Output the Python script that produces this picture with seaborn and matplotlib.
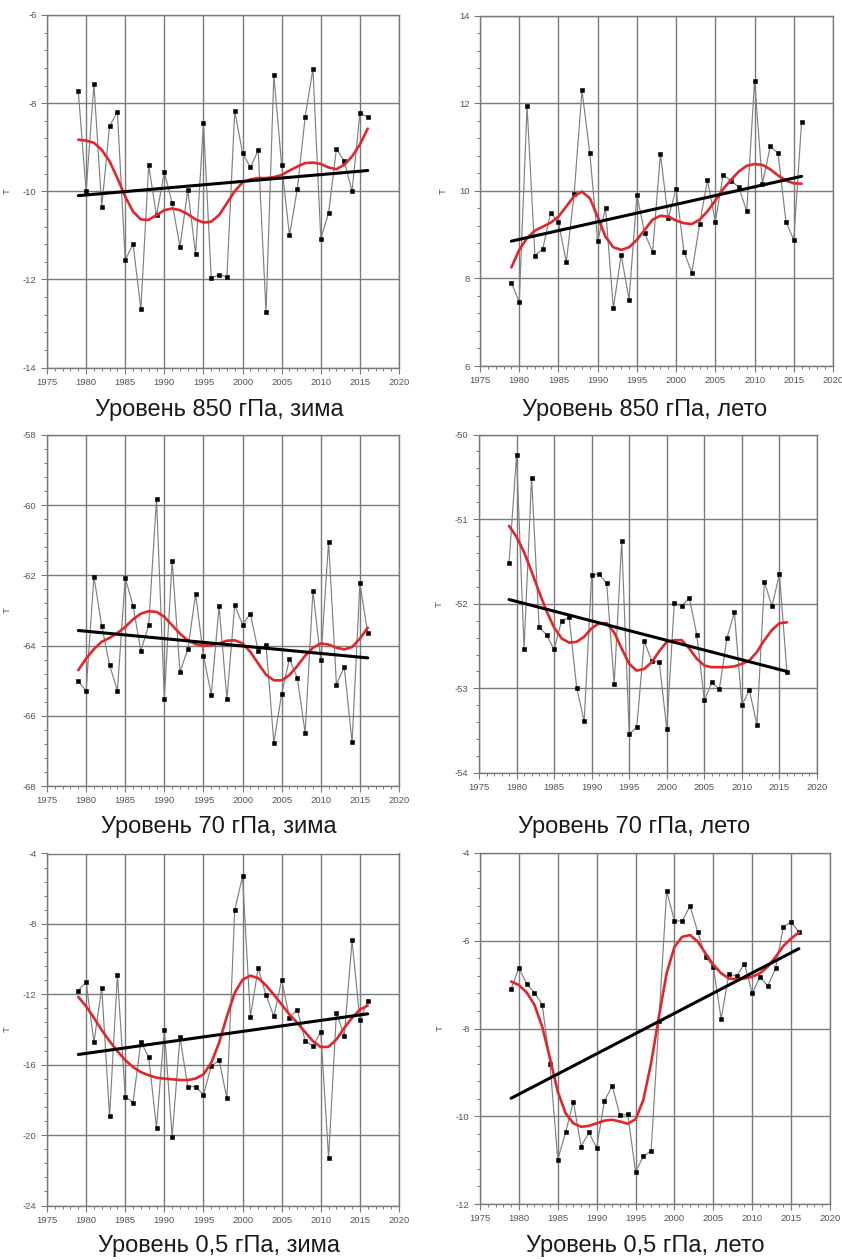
import numpy as np
import pandas as pd
import matplotlib
matplotlib.use("Agg")
import matplotlib.pyplot as plt
from matplotlib.ticker import MultipleLocator
import seaborn as sns

sns.set_style("white")
plt.rcParams['font.family'] = ['Liberation Sans', 'DejaVu Sans']
plt.rcParams['axes.unicode_minus'] = False

years = list(range(1979, 2017))

# ---- 850 hPa winter ----
t850_w = [-7.73, -10.0, -7.57, -10.35, -8.52, -8.2, -11.57, -11.19, -12.68, -9.41,
          -10.55, -9.57, -10.27, -11.26, -9.97, -11.43, -8.45, -11.97, -11.89, -11.95,
          -8.18, -9.13, -9.46, -9.07, -12.75, -7.36, -9.41, -11.0, -9.95, -8.32,
          -7.22, -11.08, -10.49, -9.04, -9.32, -10.0, -8.22, -8.32]
s850_w = [-8.83, -8.85, -8.9, -9.06, -9.32, -9.70, -10.12, -10.46, -10.64, -10.65,
          -10.54, -10.43, -10.39, -10.43, -10.52, -10.64, -10.71, -10.69, -10.54, -10.27,
          -10.0, -9.80, -9.73, -9.70, -9.70, -9.68, -9.63, -9.53, -9.44, -9.36,
          -9.35, -9.38, -9.46, -9.50, -9.40, -9.21, -8.94, -8.58]
tr850_w = [-10.10, -9.53]

# ---- 850 hPa summer ----
t850_s = [7.90, 7.46, 11.93, 8.52, 8.67, 9.49, 9.29, 8.37, 9.92, 12.29,
          10.86, 8.85, 9.60, 7.32, 8.54, 7.51, 9.91, 9.03, 8.60, 10.84,
          9.37, 10.05, 8.61, 8.13, 9.24, 10.25, 9.29, 10.36, 10.23, 10.08,
          9.53, 12.51, 10.16, 11.01, 10.86, 9.29, 8.88, 11.58]
s850_s = [8.25, 8.65, 8.92, 9.09, 9.18, 9.27, 9.41, 9.64, 9.88, 9.98,
          9.83, 9.41, 8.95, 8.71, 8.65, 8.71, 8.88, 9.11, 9.34, 9.43,
          9.41, 9.32, 9.26, 9.24, 9.34, 9.53, 9.78, 10.04, 10.25, 10.44,
          10.57, 10.61, 10.59, 10.49, 10.35, 10.23, 10.17, 10.16]
tr850_s = [8.85, 10.33]

# ---- 70 hPa winter ----
t70_w = [-65.02, -65.29, -62.04, -63.44, -64.56, -65.28, -62.07, -62.87, -64.15, -63.42,
         -59.81, -65.51, -61.58, -64.75, -64.11, -62.53, -64.29, -65.40, -62.87, -65.53,
         -62.85, -63.40, -63.09, -64.16, -63.97, -66.77, -65.37, -64.37, -64.92, -66.49,
         -62.44, -64.42, -61.04, -65.11, -64.61, -66.76, -62.23, -63.64]
s70_w = [-64.70, -64.37, -64.10, -63.89, -63.78, -63.64, -63.47, -63.25, -63.09, -63.02,
         -63.04, -63.18, -63.42, -63.66, -63.85, -63.96, -64.00, -63.99, -63.94, -63.86,
         -63.85, -63.94, -64.18, -64.51, -64.83, -64.99, -64.99, -64.84, -64.58, -64.29,
         -64.06, -63.94, -63.97, -64.06, -64.11, -64.04, -63.80, -63.49]
tr70_w = [-63.57, -64.35]

# ---- 70 hPa summer ----
t70_s = [-51.52, -50.24, -52.53, -50.51, -52.27, -52.37, -52.54, -52.20, -52.16, -52.99,
         -53.39, -51.66, -51.65, -51.76, -52.95, -51.26, -53.54, -53.46, -52.44, -52.68,
         -52.69, -53.48, -51.99, -52.03, -51.93, -52.37, -53.14, -52.93, -53.01, -52.41,
         -52.10, -53.20, -53.02, -53.43, -51.74, -52.03, -51.65, -52.81]
s70_s = [-51.08, -51.21, -51.39, -51.62, -51.86, -52.09, -52.28, -52.41, -52.46, -52.45,
         -52.39, -52.29, -52.23, -52.23, -52.34, -52.53, -52.71, -52.79, -52.77, -52.69,
         -52.56, -52.45, -52.43, -52.43, -52.53, -52.65, -52.73, -52.75, -52.75, -52.75,
         -52.74, -52.71, -52.67, -52.57, -52.43, -52.31, -52.23, -52.22]
tr70_s = [-51.95, -52.80]

# ---- 0.5 hPa winter ----
t05_w = [-11.79, -11.30, -14.72, -11.64, -18.94, -10.89, -17.81, -18.15, -14.70, -15.57,
         -19.60, -14.0, -20.09, -14.45, -17.25, -17.25, -17.70, -16.08, -15.74, -17.92,
         -7.21, -5.30, -13.28, -10.51, -12.04, -13.25, -11.19, -13.32, -12.87, -14.64,
         -14.94, -14.13, -21.30, -13.04, -14.38, -8.94, -13.47, -12.40]
s05_w = [-12.15, -12.68, -13.34, -14.04, -14.66, -15.23, -15.74, -16.13, -16.42, -16.60,
         -16.74, -16.79, -16.83, -16.87, -16.87, -16.79, -16.55, -15.89, -14.75, -13.25,
         -11.92, -11.17, -10.94, -11.08, -11.49, -12.02, -12.58, -13.15, -13.62, -14.15,
         -14.66, -15.0, -14.98, -14.57, -13.91, -13.34, -12.87, -12.64]
tr05_w = [-15.42, -13.11]

# ---- 0.5 hPa summer ----
t05_s = [-7.10, -6.62, -6.98, -7.18, -7.46, -8.81, -10.99, -10.37, -9.67, -10.69,
         -10.37, -10.72, -9.65, -9.31, -9.98, -9.95, -11.27, -10.91, -10.79, -7.84,
         -4.86, -5.55, -5.55, -5.21, -5.80, -6.37, -6.59, -7.78, -6.76, -6.81,
         -6.52, -7.20, -6.82, -7.03, -6.63, -5.68, -5.57, -5.80]
s05_s = [-6.93, -7.01, -7.18, -7.46, -7.96, -8.68, -9.44, -9.93, -10.16, -10.24,
         -10.22, -10.16, -10.10, -10.08, -10.12, -10.17, -10.07, -9.63, -8.79, -7.73,
         -6.74, -6.14, -5.91, -5.87, -6.02, -6.29, -6.55, -6.74, -6.86, -6.88,
         -6.86, -6.82, -6.74, -6.59, -6.37, -6.12, -5.95, -5.81]
tr05_s = [-9.59, -6.18]

titles = ["Уровень 850 гПа, зима", "Уровень 850 гПа, лето",
          "Уровень 70 гПа, зима", "Уровень 70 гПа, лето",
          "Уровень 0,5 гПа, зима", "Уровень 0,5 гПа, лето"]
ylims = [(-14, -6), (6, 14), (-68, -58), (-54, -50), (-24, -4), (-12, -4)]
ysteps = [2, 2, 2, 1, 4, 2]
series = [(t850_w, s850_w, tr850_w), (t850_s, s850_s, tr850_s),
          (t70_w, s70_w, tr70_w), (t70_s, s70_s, tr70_s),
          (t05_w, s05_w, tr05_w), (t05_s, s05_s, tr05_s)]

W, H = 842, 1260
# axes boxes in pixels: left, top, right, bottom
boxes = [(47, 15, 399, 367.5), (480, 15.5, 833, 366),
         (47, 435, 399, 786), (479, 434.5, 817, 773),
         (47, 853.5, 399, 1205.5), (480, 853, 830, 1204)]
title_pos = [(219, 410), (645, 410), (219, 827), (634, 827), (219, 1246), (645, 1246)]

fig = plt.figure(figsize=(W / 100, H / 100), dpi=100)
fig.patch.set_facecolor("white")

gridc = "#7a7a7a"
for i in range(6):
    l, t, r, b = boxes[i]
    ax = fig.add_axes([l / W, 1 - b / H, (r - l) / W, (b - t) / H])
    vals, smooth, trend = series[i]
    df = pd.DataFrame({"year": years, "T": vals, "S": smooth})
    sns.lineplot(data=df, x="year", y="T", ax=ax, color="#808080", linewidth=0.85,
                 marker="s", markersize=2.2, markerfacecolor="black",
                 markeredgecolor="black", markeredgewidth=0.4, zorder=3)
    sns.lineplot(data=df, x="year", y="S", ax=ax, color="#e3262b", linewidth=1.9,
                 zorder=4)
    dtr = pd.DataFrame({"year": [years[0], years[-1]], "T": trend})
    sns.lineplot(data=dtr, x="year", y="T", ax=ax, color="black", linewidth=2.2,
                 zorder=5)
    ax.set_xlim(1975, 2020)
    ax.set_ylim(*ylims[i])
    ax.xaxis.set_major_locator(MultipleLocator(5))
    ax.xaxis.set_minor_locator(MultipleLocator(1))
    ax.yaxis.set_major_locator(MultipleLocator(ysteps[i]))
    ax.yaxis.set_minor_locator(MultipleLocator(ysteps[i] / 5))
    ax.grid(True, which="major", color=gridc, linewidth=1.0)
    ax.set_axisbelow(True)
    for sp in ax.spines.values():
        sp.set_color(gridc)
        sp.set_linewidth(1.0)
        sp.set_visible(True)
    ax.tick_params(axis="both", which="major", direction="out", length=4.5,
                   width=0.8, color=gridc, labelsize=6.8, labelcolor="#555555", pad=3)
    ax.tick_params(axis="both", which="minor", direction="out", length=2.2,
                   width=0.7, color=gridc)
    ax.tick_params(axis="both", which="both", left=True, bottom=True)
    ax.set_xlabel("")
    ax.set_ylabel("T", fontsize=6.8, color="#555555", labelpad=8)
    ax.set_xticks(list(range(1975, 2021, 5)))
    ax.set_xticklabels([str(y) for y in range(1975, 2021, 5)])
    fig.text(title_pos[i][0] / W, 1 - title_pos[i][1] / H, titles[i],
             ha="center", va="center", fontsize=17, color="#1a1a1a")

fig.savefig("out.png", dpi=100, facecolor="white")
